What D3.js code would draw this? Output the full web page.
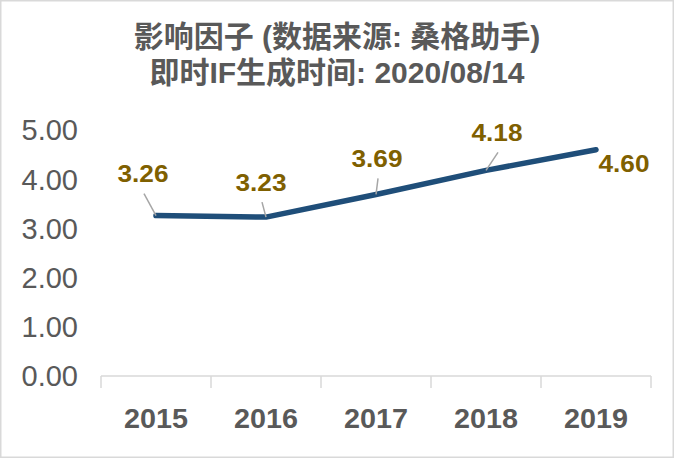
<!DOCTYPE html>
<html><head><meta charset="utf-8">
<script src="https://cdn.jsdelivr.net/npm/d3@7"></script>
<style>body{margin:0;background:#fff}svg{display:block}</style>
</head><body>
<svg id="c" width="674" height="458"></svg>
<script>
const years = ["2015","2016","2017","2018","2019"];
const values = [3.26, 3.23, 3.69, 4.18, 4.60];
const yTicks = [0,1,2,3,4,5];
const titleLines = ["影响因子 (数据来源: 桑格助手)", "即时IF生成时间: 2020/08/14"];
// label layout offsets (dx, dy of label centre relative to point) and leader flag
const labelLayout = [
  {dx:-13, dy:-42, leader:true},
  {dx:-5, dy:-35, leader:true},
  {dx:1, dy:-36, leader:true},
  {dx:11, dy:-38, leader:true},
  {dx:28, dy:14, leader:false}
];

const svg = d3.select("#c");
const W = 674, H = 458;
svg.append("rect").attr("x",0.75).attr("y",0.75).attr("width",W-1.5).attr("height",H-1.5)
  .attr("fill","#fff").attr("stroke","#d9d9d9").attr("stroke-width",1.5);

const latin = "'Liberation Sans', Arial, sans-serif";
const titleFont = "'Liberation Sans', 'Noto Sans CJK SC', sans-serif";

// Title (one text per line)
svg.selectAll("text.title").data(titleLines).join("text").attr("class","title")
  .attr("x",337).attr("y",(d,i)=> i===0 ? 47 : 83)
  .attr("text-anchor","middle").attr("fill","#595959")
  .attr("font-family",titleFont).attr("font-weight","bold").attr("font-size",30)
  .text(d=>d);

const x = d3.scaleBand().domain(years).range([101,651]).padding(0);
const y = d3.scaleLinear().domain([0,5]).range([376,130]);

// x axis
const gx = svg.append("g").attr("transform","translate(0,376)");
gx.append("line").attr("x1",101).attr("x2",651).attr("y1",0).attr("y2",0)
  .attr("stroke","#d9d9d9").attr("stroke-width",1.5);
const bounds = years.map(d=>x(d)).concat([x(years[years.length-1])+x.bandwidth()]);
gx.selectAll("line.tk").data(bounds).join("line").attr("class","tk")
  .attr("x1",d=>d).attr("x2",d=>d).attr("y1",0).attr("y2",12)
  .attr("stroke","#d9d9d9").attr("stroke-width",1.5);
gx.selectAll("text.xl").data(years).join("text").attr("class","xl")
  .attr("x",d=>x(d)+x.bandwidth()/2).attr("y",52)
  .attr("text-anchor","middle").attr("font-family",latin).attr("font-weight","bold")
  .attr("font-size",28).attr("fill","#595959").attr("textLength",64).attr("lengthAdjust","spacingAndGlyphs")
  .text(d=>d);

// y tick labels
const fmt = d3.format(".2f");
svg.selectAll("text.yl").data(yTicks).join("text").attr("class","yl")
  .attr("x",78).attr("y",d=>y(d)).attr("dy","0.36em").attr("text-anchor","end")
  .attr("font-family",latin).attr("font-size",29).attr("fill","#595959")
  .text(d=>fmt(d));

// line
const pts = years.map((d,i)=>[x(d)+x.bandwidth()/2, y(values[i])]);
svg.append("path").attr("d", d3.line()(pts)).attr("fill","none")
  .attr("stroke","#1f4e79").attr("stroke-width",5.5)
  .attr("stroke-linecap","round").attr("stroke-linejoin","round");

// leaders and labels
pts.forEach((p,i)=>{
  const L = labelLayout[i];
  const lx = p[0]+L.dx, ly = p[1]+L.dy;
  if(L.leader){
    svg.append("line").attr("x1",lx+1).attr("y1",ly+20).attr("x2",p[0]).attr("y2",p[1])
      .attr("stroke","#a6a6a6").attr("stroke-width",1.5);
  }
  svg.append("text").attr("x",lx).attr("y",ly).attr("dy","0.36em")
    .attr("text-anchor","middle").attr("font-family",latin).attr("font-weight","bold")
    .attr("font-size",24).attr("fill","#7f6000").attr("textLength",51).attr("lengthAdjust","spacingAndGlyphs")
    .text(fmt(values[i]));
});
</script>
</body></html>
